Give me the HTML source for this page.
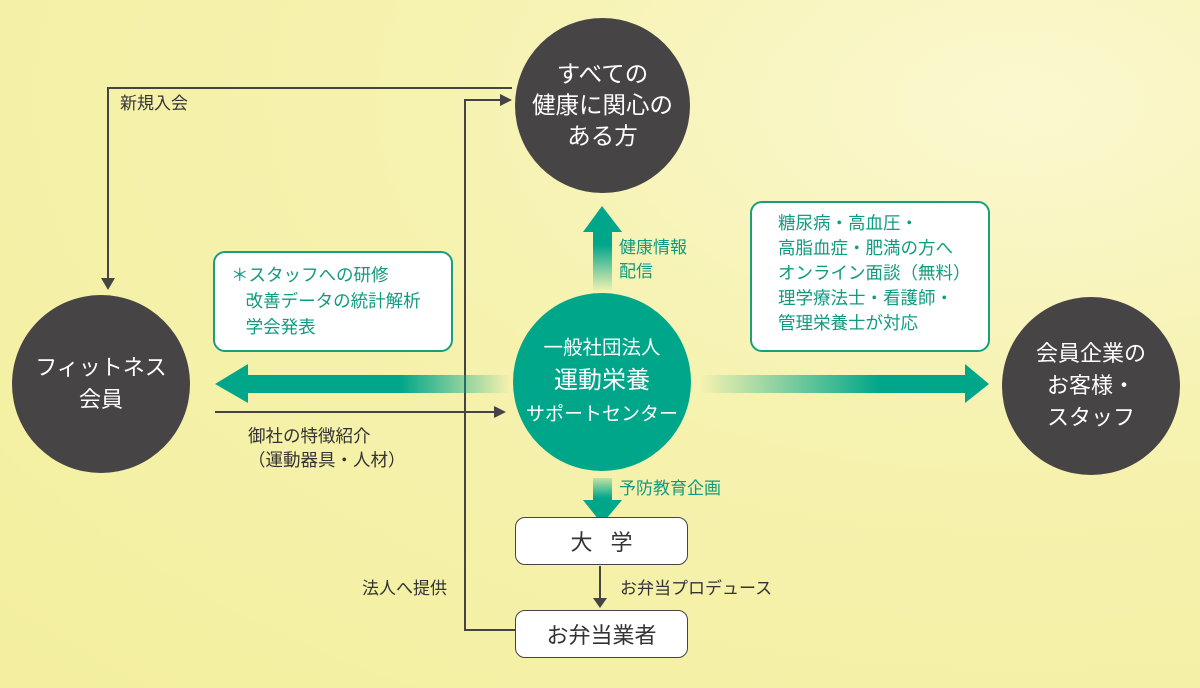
<!DOCTYPE html>
<html><head><meta charset="utf-8"><style>
body{margin:0}
#c{position:relative;width:1200px;height:688px;overflow:hidden;background:radial-gradient(ellipse at 85% 15%,#fbf8d0 0%,#f6f2b0 40%,#f3ef9e 100%);font-family:"Liberation Sans","Noto Sans CJK JP",sans-serif}
.circ{position:absolute;border-radius:50%;color:#fff;display:flex;align-items:center;justify-content:center;text-align:center}
.dark{background:#464444}
.box{position:absolute;background:#fff;border:2px solid #1a9e7e;border-radius:12px;color:#129a80;font-size:17.5px;box-sizing:border-box;white-space:nowrap}
.rb{position:absolute;background:#fff;border:1.5px solid #444;border-radius:10px;box-sizing:border-box;display:flex;align-items:center;justify-content:center;font-size:22px;color:#333}
.t{position:absolute;font-size:17px;color:#333;line-height:24px;white-space:nowrap}
.g{color:#129a80}
</style></head><body><div id="c">
<svg width="1200" height="688" style="position:absolute;left:0;top:0">
<defs>
<linearGradient id="gr" x1="700" x2="880" y1="0" y2="0" gradientUnits="userSpaceOnUse"><stop offset="0" stop-color="#00a68a" stop-opacity="0"/><stop offset="1" stop-color="#00a68a"/></linearGradient>
<linearGradient id="gl" x1="510" x2="400" y1="0" y2="0" gradientUnits="userSpaceOnUse"><stop offset="0" stop-color="#00a68a" stop-opacity="0"/><stop offset="1" stop-color="#00a68a"/></linearGradient>
<linearGradient id="gu" x1="0" x2="0" y1="292" y2="245" gradientUnits="userSpaceOnUse"><stop offset="0" stop-color="#00a68a" stop-opacity="0"/><stop offset="1" stop-color="#00a68a"/></linearGradient>
<linearGradient id="gd" x1="0" x2="0" y1="478" y2="498" gradientUnits="userSpaceOnUse"><stop offset="0" stop-color="#00a68a" stop-opacity="0.2"/><stop offset="1" stop-color="#00a68a"/></linearGradient>
</defs>
<g stroke="#444" stroke-width="2" fill="none">
<polyline points="512,88 108,88 108,282"/>
<polyline points="515,630 465,630 465,100 508,100"/>
<line x1="215" y1="412" x2="500" y2="412"/>
<line x1="600" y1="566" x2="600" y2="603"/>
</g>
<g fill="#444">
<polygon points="101,278 115,278 108,290"/>
<polygon points="500,94 512,100 500,106"/>
<polygon points="494,406 506,412 494,418"/>
<polygon points="593,598 607,598 600,608"/>
</g>
<rect x="700" y="375" width="267" height="18" fill="url(#gr)"/>
<polygon points="965,364 989,384 965,403" fill="#00a68a"/>
<rect x="245" y="375" width="265" height="18" fill="url(#gl)"/>
<polygon points="248,364 215,384 248,403" fill="#00a68a"/>
<rect x="593" y="230" width="19" height="62" fill="url(#gu)"/>
<polygon points="583,232 602,206 622,232" fill="#00a68a"/>
<rect x="593" y="478" width="19" height="24" fill="url(#gd)"/>
<polygon points="583,500 622,500 602,524" fill="#00a68a"/>
</svg>
<div class="circ dark" style="left:515px;top:18px;width:175px;height:175px;font-size:23.5px;line-height:31px">すべての<br>健康に関心の<br>ある方</div>
<div class="circ dark" style="left:12px;top:295px;width:178px;height:178px;font-size:22px;line-height:32px">フィットネス<br>会員</div>
<div class="circ dark" style="left:1002px;top:297px;width:178px;height:178px;font-size:22px;line-height:32px">会員企業の<br>お客様・<br>スタッフ</div>
<div class="circ" style="background:#00a68a;left:513px;top:293px;width:178px;height:178px;line-height:31px"><div><span style="font-size:19.5px">一般社団法人</span><br><span style="font-size:24px">運動栄養</span><br><span style="font-size:19px">サポートセンター</span></div></div>
<div class="box" style="left:213px;top:251px;width:240px;height:101px;padding:9px 0 0 16px;line-height:26px">＊スタッフへの研修<br>&nbsp;&nbsp;&nbsp;改善データの統計解析<br>&nbsp;&nbsp;&nbsp;学会発表</div>
<div class="box" style="left:750px;top:201px;width:240px;height:151px;padding:8px 0 0 26px;line-height:25px">糖尿病・高血圧・<br>高脂血症・肥満の方へ<br>オンライン面談（無料）<br>理学療法士・看護師・<br>管理栄養士が対応</div>
<div class="rb" style="left:515px;top:517px;width:173px;height:48px;letter-spacing:18px;padding-left:18px">大学</div>
<div class="rb" style="left:515px;top:610px;width:173px;height:48px">お弁当業者</div>
<div class="t" style="left:120px;top:92px">新規入会</div>
<div class="t g" style="left:619px;top:236px">健康情報<br>配信</div>
<div class="t" style="left:248px;top:424px;font-size:17.5px">御社の特徴紹介<br>（運動器具・人材）</div>
<div class="t g" style="left:619px;top:477px">予防教育企画</div>
<div class="t" style="left:620px;top:577px">お弁当プロデュース</div>
<div class="t" style="left:362px;top:577px">法人へ提供</div>
</div></body></html>
